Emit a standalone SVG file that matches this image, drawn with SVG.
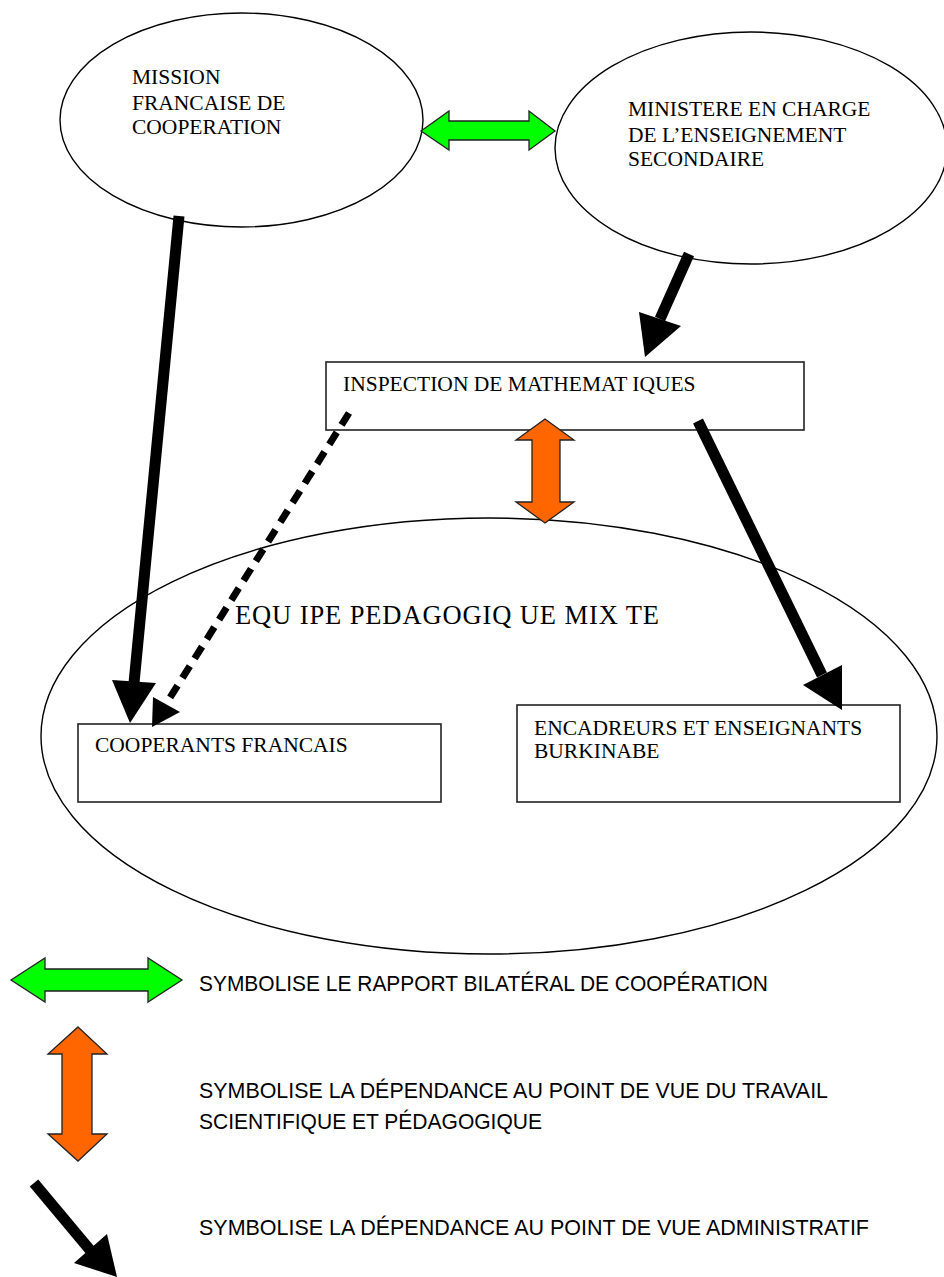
<svg xmlns="http://www.w3.org/2000/svg" width="944" height="1277" viewBox="0 0 944 1277">
<style>
.shape{fill:#fff;stroke:#000;stroke-width:1.4}
.box{fill:#fff;stroke:#222;stroke-width:1.6}
.serif{font-family:"Liberation Serif","Times New Roman",serif;font-size:21.5px;fill:#000}
.sans{font-family:"Liberation Sans",Arial,sans-serif;font-size:22.5px;fill:#000}
.shaft{stroke:#000;stroke-width:11;fill:none}
.dash{stroke:#000;stroke-width:7;stroke-dasharray:14 9;fill:none}
.head{fill:#000;stroke:none}
.green{fill:#00ff00;stroke:#222;stroke-width:1.3}
.orange{fill:#ff6600;stroke:#222;stroke-width:1.3}
</style>
<rect width="944" height="1277" fill="#fff"/>
<g id="equipe">
<ellipse class="shape" cx="489" cy="736" rx="448" ry="218"/>
<text class="serif" x="235" y="624" style="font-size:26.5px" textLength="424" lengthAdjust="spacing">EQU IPE PEDAGOGIQ UE MIX TE</text>
</g>
<g id="mission">
<ellipse class="shape" cx="241.5" cy="120" rx="181.5" ry="107"/>
<text class="serif" x="132" y="84">MISSION</text>
<text class="serif" x="132" y="110">FRANCAISE DE</text>
<text class="serif" x="132" y="134">COOPERATION</text>
</g>
<g id="ministere">
<ellipse class="shape" cx="751" cy="148" rx="196" ry="116"/>
<text class="serif" x="628" y="116">MINISTERE EN CHARGE</text>
<text class="serif" x="628" y="142">DE L’ENSEIGNEMENT</text>
<text class="serif" x="628" y="166">SECONDAIRE</text>
</g>
<g id="inspection">
<rect class="box" x="326" y="362" width="478" height="68"/>
<text class="serif" x="343" y="391">INSPECTION DE  MATHEMAT IQUES</text>
</g>
<g id="cooperants">
<rect class="box" x="78" y="724" width="363" height="78"/>
<text class="serif" x="95" y="752">COOPERANTS FRANCAIS</text>
</g>
<g id="encadreurs">
<rect class="box" x="517" y="705" width="383" height="97"/>
<text class="serif" x="534" y="735">ENCADREURS ET ENSEIGNANTS</text>
<text class="serif" x="534" y="758">BURKINABE</text>
</g>
<g id="connectors">
<polygon class="green" points="421,131 449,111 449,121 529,121 529,111 555,131 529,150 529,140 449,140 449,150"/>
<polygon class="orange" points="545,419 574,440 560,440 560,502 574,502 545,523 516,502 532,502 532,440 516,440"/>
<line class="shaft" x1="179" y1="216" x2="134" y2="683"/>
<polygon class="head" points="112,680 156,683 130,723"/>
<line class="shaft" x1="689" y1="254" x2="660" y2="319"/>
<polygon class="head" points="639,312 681,326 645,357"/>
<line class="shaft" x1="698" y1="421" x2="822" y2="675"/>
<polygon class="head" points="803,685 842,665 842,710"/>
<line class="dash" x1="349" y1="413" x2="166" y2="704"/>
<polygon class="head" points="153,697 180,712 152,727"/>
</g>
<g id="legend">
<polygon class="green" points="11,980 45,958 45,969 148,969 148,958 182,980 148,1002 148,991 45,991 45,1002"/>
<text class="sans" x="199" y="991" textLength="569" lengthAdjust="spacingAndGlyphs">SYMBOLISE LE RAPPORT BILATÉRAL DE COOPÉRATION</text>
<polygon class="orange" points="78,1027 107,1054 92,1054 92,1134 107,1134 78,1161 48,1134 62,1134 62,1054 48,1054"/>
<text class="sans" x="199" y="1098" textLength="629" lengthAdjust="spacingAndGlyphs">SYMBOLISE LA DÉPENDANCE AU POINT DE VUE DU TRAVAIL</text>
<text class="sans" x="199" y="1129" textLength="343" lengthAdjust="spacingAndGlyphs">SCIENTIFIQUE ET PÉDAGOGIQUE</text>
<line class="shaft" x1="34" y1="1183" x2="90" y2="1250"/>
<polygon class="head" points="74,1263 107,1234 117,1277"/>
<text class="sans" x="199" y="1235" textLength="670" lengthAdjust="spacingAndGlyphs">SYMBOLISE LA DÉPENDANCE AU POINT DE VUE ADMINISTRATIF</text>
</g>
</svg>
